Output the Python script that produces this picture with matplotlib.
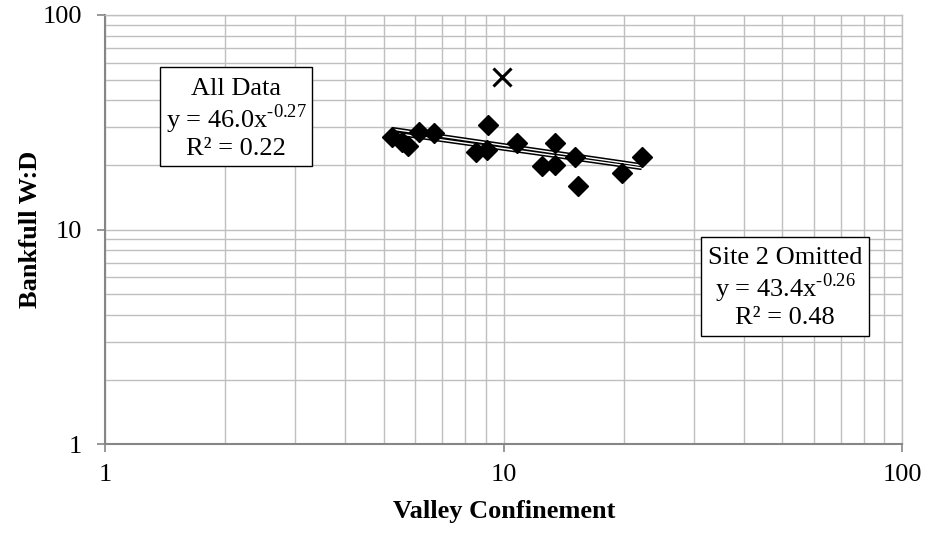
import matplotlib
matplotlib.use("Agg")
import matplotlib.pyplot as plt
import numpy as np
from matplotlib.patches import Rectangle
from matplotlib.ticker import LogLocator, FixedLocator, NullFormatter, FuncFormatter

plt.rcParams['font.family'] = ['Liberation Serif', 'DejaVu Serif']
plt.rcParams['mathtext.fontset'] = 'custom'
plt.rcParams['mathtext.rm'] = 'Liberation Serif'

# Data (Valley Confinement vs Bankfull W:D)
valley_conf = [5.23, 5.55, 5.75, 6.14, 6.68, 8.52, 9.06, 9.14, 10.77, 12.45,
               13.45, 13.45, 15.09, 15.38, 19.83, 22.18]
bankfull_wd = [26.9, 25.6, 24.6, 28.4, 28.1, 22.9, 23.5, 30.6, 25.3, 19.7,
               25.4, 20.0, 21.8, 16.0, 18.3, 21.9]
site2_x = [9.88]
site2_y = [51.3]

# Power trendline coefficients (from chart labels)
all_a, all_b, all_r2 = 46.0, -0.27, 0.22
om_a, om_b, om_r2 = 43.4, -0.26, 0.48

x_ticks = [1, 10, 100]
y_ticks = [1, 10, 100]

W, H = 930, 535
fig = plt.figure(figsize=(9.3, 5.35), dpi=100)
ax = fig.add_axes([0.1132, 0.1695, 0.857, 0.8025])
ax.set_xscale('log')
ax.set_yscale('log')
ax.set_xlim(1, 100)
ax.set_ylim(1, 100)

grid_c = '#bfbfbf'
spine_c = '#868686'
ax.xaxis.set_minor_locator(LogLocator(base=10, subs=np.arange(2, 10)))
ax.yaxis.set_minor_locator(LogLocator(base=10, subs=np.arange(2, 10)))
ax.xaxis.set_major_locator(FixedLocator(x_ticks))
ax.yaxis.set_major_locator(FixedLocator(y_ticks))
ax.xaxis.set_minor_formatter(NullFormatter())
ax.yaxis.set_minor_formatter(NullFormatter())
ax.xaxis.set_major_formatter(FuncFormatter(lambda v, p: f"{v:g}"))
ax.yaxis.set_major_formatter(FuncFormatter(lambda v, p: f"{v:g}"))
ax.grid(True, which='both', color=grid_c, linewidth=1.0)
ax.set_axisbelow(True)
ax.tick_params(which='minor', length=0)
ax.tick_params(which='major', length=5.5, color=spine_c, width=1.2, labelsize=19)
ax.tick_params(axis='x', which='major', pad=9)
ax.tick_params(axis='y', which='major', pad=11)
for s in ['left', 'bottom']:
    ax.spines[s].set_color(spine_c)
    ax.spines[s].set_linewidth(1.5)
for s in ['top', 'right']:
    ax.spines[s].set_color(grid_c)
    ax.spines[s].set_linewidth(1.0)

# Trendlines (double-line style)
xs_all = np.geomspace(min(valley_conf), max(valley_conf), 50)
for a, b in [(all_a, all_b), (om_a, om_b)]:
    ax.plot(xs_all, a * xs_all ** b, color='black', lw=3.2, zorder=3, solid_capstyle='butt')
for a, b in [(all_a, all_b), (om_a, om_b)]:
    ax.plot(xs_all, a * xs_all ** b, color='white', lw=1.0, zorder=3.5, solid_capstyle='butt')

ax.plot(valley_conf, bankfull_wd, linestyle='none', marker='D', markersize=10.5,
        color='black', zorder=4)
ax.plot(site2_x, site2_y, linestyle='none', marker='x', markersize=13,
        markeredgewidth=2.2, color='black', zorder=4)

ax.set_xlabel('Valley Confinement', fontsize=19, fontweight='bold', labelpad=10)
ax.set_ylabel('Bankfull W:D', fontsize=19, fontweight='bold', va='center')
ax.yaxis.set_label_coords((31 - 105.3) / 797, 0.5)


def sup(v):
    return "$^{\\text{" + f"{v:.2f}" + "}}$"


def label_box(x0, y0, x1, y1, txt, ty):
    fig.patches.append(Rectangle((x0 / W, 1 - y1 / H), (x1 - x0) / W, (y1 - y0) / H,
                                 transform=fig.transFigure, facecolor='white',
                                 edgecolor='black', linewidth=1.0, zorder=5))
    fig.text((x0 + x1) / 2 / W, 1 - ty / H, txt, ha='center', va='center',
             multialignment='center', fontsize=19, linespacing=1.1, zorder=6)


label_box(160, 67, 312, 166,
          f"All Data\ny = {all_a:.1f}x" + sup(all_b) + f"\nR² = {all_r2:.2f}", 119)
label_box(701, 237, 869, 336,
          f"Site 2 Omitted\ny = {om_a:.1f}x" + sup(om_b) + f"\nR² = {om_r2:.2f}", 288)

fig.savefig('out.png', dpi=100)
